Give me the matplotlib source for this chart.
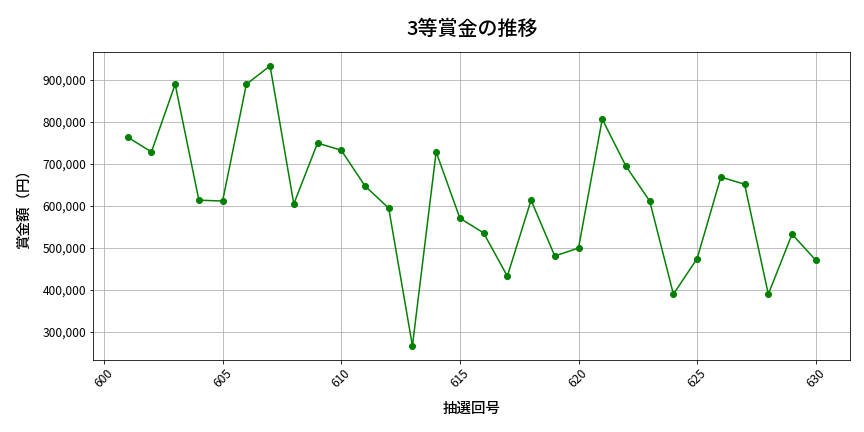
import matplotlib
matplotlib.use('Agg')
import matplotlib.pyplot as plt
from matplotlib.ticker import FuncFormatter

plt.rcParams['font.family'] = ['Noto Sans CJK JP', 'DejaVu Sans']

# Data
draws = list(range(601, 631))
prize = [764000, 729000, 890000, 614000, 612000, 890000, 934000, 605000, 750000, 733000,
         648000, 595000, 267000, 729000, 571000, 536000, 433000, 614000, 481000, 500000,
         807000, 695000, 612000, 390000, 475000, 669000, 652000, 390000, 533000, 471000]

fig, ax = plt.subplots(figsize=(12, 6), dpi=72)
fig.subplots_adjust(left=0.108, right=0.984, top=0.880, bottom=0.167)

ax.plot(draws, prize, color='green', marker='o', markersize=6, linewidth=1.5)

ax.set_title('3等賞金の推移', fontsize=20, fontweight='medium', pad=17)
ax.set_xlabel('抽選回号', fontsize=14.5, fontweight='medium', labelpad=12)
ax.set_ylabel('賞金額（円）', fontsize=14.5, fontweight='medium', labelpad=12)
ax.set_xticks(range(600, 631, 5))
ax.yaxis.set_major_formatter(FuncFormatter(lambda v, p: f'{int(v):,}'))
ax.tick_params(axis='x', labelrotation=45, labelsize=12)
ax.tick_params(axis='y', labelsize=12)
ax.grid(True, color='#b0b0b0', linewidth=0.8)

fig.savefig('out.png', dpi=72)
